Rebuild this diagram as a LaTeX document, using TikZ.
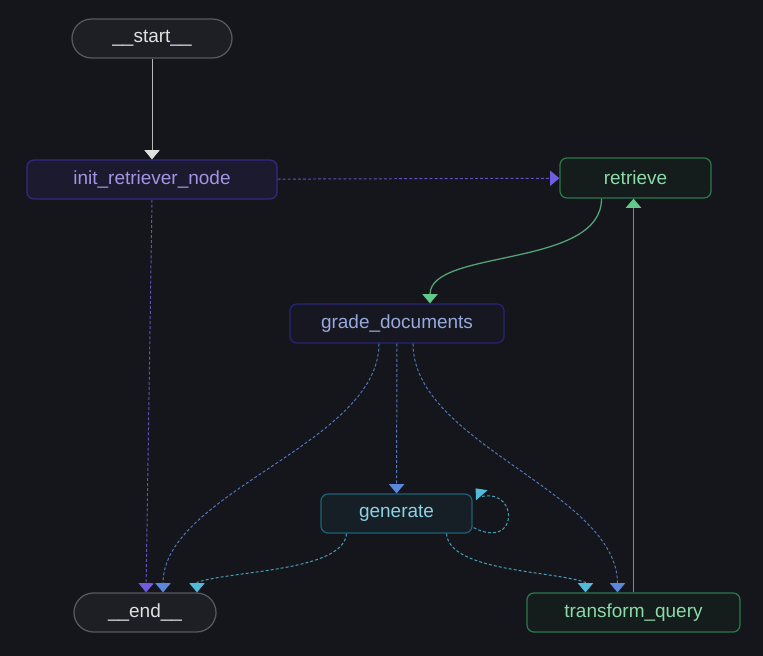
\documentclass[tikz,border=0pt]{standalone}
\usepackage{fontspec}
\setmainfont{Liberation Sans}
\usetikzlibrary{arrows.meta,shapes.misc,calc}
\definecolor{night}{RGB}{21,22,28}
\definecolor{chalk}{RGB}{225,225,225}
\definecolor{slate}{RGB}{88,88,94}
\definecolor{violet}{RGB}{112,92,222}
\definecolor{cornflower}{RGB}{92,136,220}
\definecolor{lagoon}{RGB}{80,188,218}
\definecolor{mint}{RGB}{98,200,140}
\definecolor{initline}{RGB}{52,40,135}
\definecolor{initfill}{RGB}{28,26,46}
\definecolor{inittext}{RGB}{165,148,228}
\definecolor{leafline}{RGB}{42,120,75}
\definecolor{leaffill}{RGB}{20,28,28}
\definecolor{leaftext}{RGB}{140,218,168}
\definecolor{gradeline}{RGB}{38,36,118}
\definecolor{gradefill}{RGB}{22,23,32}
\definecolor{gradetext}{RGB}{150,170,222}
\definecolor{genline}{RGB}{30,96,118}
\definecolor{genfill}{RGB}{22,30,38}
\definecolor{gentext}{RGB}{140,210,228}
\tikzset{
  >={Triangle[length=2.3mm,width=3.8mm]},
  term/.style={rounded rectangle,draw=slate,fill=white!4!night,line width=0.9pt,
    minimum height=9.75mm,inner sep=0pt,text=chalk,font=\fontsize{13.5}{16}\selectfont},
  box/.style={draw=#1line,fill=#1fill,rounded corners=5pt,line width=0.9pt,
    minimum height=9.75mm,inner sep=0pt,text=#1text,font=\fontsize{13.5}{16}\selectfont},
  box/.default=grade,
  flow/.style={line width=0.9pt,draw=#1!80!night,-{Triangle[length=2.3mm,width=3.8mm,color=#1]}},
  flow/.default=chalk,
  hop/.style={line width=0.7pt,draw=#1!85!night,dash pattern=on 2.1pt off 1.5pt,
    -{Triangle[length=2.3mm,width=3.8mm,color=#1]}},
  hop/.default=cornflower,
}
\begin{document}
\begin{tikzpicture}[x=0.025cm,y=-0.025cm]
  \fill[night] (0,0) rectangle (763,656);
  % nodes
  \node[term,minimum width=40mm] (start) at (152,38.5) {\_\_start\_\_};
  \node[box=init,minimum width=62.5mm] (init) at (152,179.5) {init\_retriever\_node};
  \node[box=leaf,minimum width=37.75mm,minimum height=10mm] (retrieve) at (635.5,178) {retrieve};
  \node[box=grade,minimum width=53.5mm] (grade) at (397,323.5) {grade\_documents};
  \node[box=gen,minimum width=37.75mm] (generate) at (396.5,513.5) {generate};
  \node[term,minimum width=35.5mm] (end) at (145,612.5) {\_\_end\_\_};
  \node[box=leaf,minimum width=53.25mm] (transform) at (633.5,612.5) {transform\_query};
  % edges
  \draw[flow,line width=0.7pt] (start.south) -- (start.south |- init.north);
  \draw[hop=violet] (init) -- (retrieve);
  \draw[hop=violet] (init.south) -- ($(end.north)+(1,0)$);
  \draw[flow=mint] ($(retrieve.south)+(-34,0)$) .. controls +(0,70) and +(0,-55) .. ($(grade.north)+(33,0)$);
  \draw[hop] ($(grade.south)+(-18,0)$) .. controls +(0,100) and +(0,-100) .. ($(end.north)+(18,0)$);
  \draw[hop] (grade) -- (generate);
  \draw[hop] ($(grade.south)+(16,0)$) .. controls +(0,100) and +(0,-100) .. ($(transform.north)+(-16,0)$);
  \draw[hop=lagoon] ($(generate.south)+(-50,0)$) .. controls +(-3,38) and +(35,-12) .. ($(end.north)+(52,-10)$) -- ($(end.north)+(52,0)$);
  \draw[hop=lagoon] ($(generate.south)+(50,0)$) .. controls +(3,38) and +(-35,-12) .. ($(transform.north)+(-48,-10)$) -- ($(transform.north)+(-48,0)$);
  \draw[hop=lagoon] ($(generate.south east)+(1,-6)$) .. controls +(45,23) and +(36,-7) .. ($(generate.north east)+(10,3)$) -- ($(generate.north east)+(3,-5)$);
  \draw[flow=mint,line width=1.2pt] (transform.north) -- (transform.north |- retrieve.south);
\end{tikzpicture}
\end{document}
